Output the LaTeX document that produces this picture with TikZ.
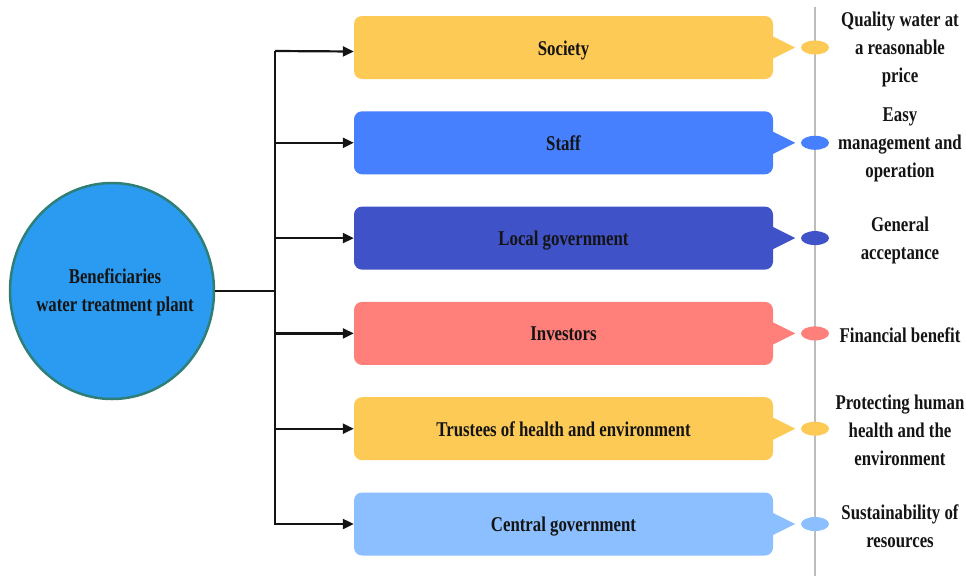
\documentclass[tikz,border=0pt]{standalone}
\usepackage{fontspec}
\setmainfont{Liberation Serif}[FakeStretch=0.8]
\usetikzlibrary{arrows.meta,shapes.geometric}
\definecolor{cyel}{HTML}{FDCA55}
\definecolor{cblu}{HTML}{4680FE}
\definecolor{cind}{HTML}{4052C8}
\definecolor{csal}{HTML}{FF7F7A}
\definecolor{clbl}{HTML}{8CBFFF}
\definecolor{chub}{HTML}{2A9BF0}
\definecolor{chubd}{HTML}{2F7F77}
\definecolor{cink}{HTML}{141414}
\definecolor{cgray}{HTML}{BDBDBD}
\tikzset{
  txt/.style={text=cink,font=\fontsize{21}{28}\selectfont\bfseries},
  bbox/.style={txt,rounded corners=8pt,minimum width=419pt,minimum height=63pt,inner sep=0pt,text height=15pt,text depth=0pt},
  dot/.style={ellipse,minimum width=28pt,minimum height=14pt,inner sep=0pt},
  note/.style={txt,align=center},
  conn/.style={draw=cink,line width=2.2pt},
  arr/.style={conn,-{Triangle[length=11pt,width=10pt]}},
  vline/.style={draw=cgray,line width=1.5pt},
}
\begin{document}
\begin{tikzpicture}[x=1pt,y=-1pt]
\path[use as bounding box] (0,0) rectangle (966,576);
% hub
\node[ellipse,fill=chub,draw=chubd,line width=2.5pt,minimum width=204pt,minimum height=216pt,inner sep=0pt] (hub) at (112,291) {};
\node[note] (hubt) at (115,292) {Beneficiaries\\water treatment plant};
% gray line
\coordinate (gtop) at (815,7);
\coordinate (gbot) at (815,576);
\draw[vline] (gtop) -- (gbot);
% boxes
\foreach \n/\y/\c/\t in {b1/47.5/cyel/Society,b2/142.8/cblu/Staff,b3/238.1/cind/Local government,b4/333.4/csal/Investors,b5/428.7/cyel/Trustees of health and environment,b6/524/clbl/Central government}{
  \node[bbox,fill=\c] (\n) at (563.5,\y) {\t};
  \fill[\c] ([yshift=11pt]\n.east) -- ([xshift=22pt]\n.east) -- ([yshift=-11pt]\n.east) -- cycle;
  \node[dot,fill=\c] (\n d) at (815,\y) {};
}
% notes
\node[note] (n1) at (900,49) {Quality water at\\a reasonable\\price};
\node[note] (n2) at (900,145) {Easy\\management and\\operation};
\node[note] (n3) at (900,240) {General\\acceptance};
\node[note] (n4) at (900,335) {Financial benefit};
\node[note] (n5) at (900,430) {Protecting human\\health and the\\environment};
\node[note] (n6) at (900,526) {Sustainability of\\resources};
% connectors
\coordinate (jn) at (275,291);
\coordinate (jtop) at (275,51);
\coordinate (jbot) at (275,525);
\draw[conn] (hub.east) -- (jn);
\draw[conn] (jtop) -- (jbot);
\draw[arr] (jtop) -- ([yshift=-4pt]b1.west);
\foreach \n in {b2,b3,b4,b5,b6}{
  \draw[arr] (\n.west -| jn) -- (\n.west);
}
\end{tikzpicture}
\end{document}
